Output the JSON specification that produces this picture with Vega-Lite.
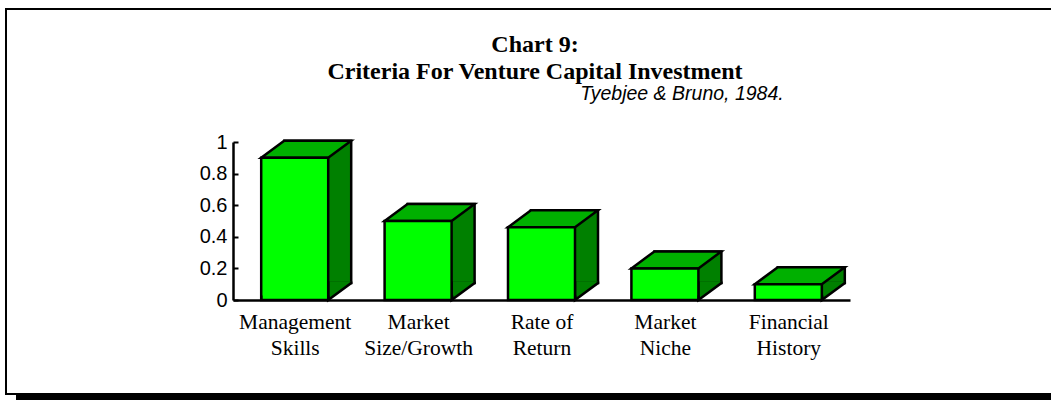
{
  "$schema": "https://vega.github.io/schema/vega-lite/v6.json",
  "width": 1046,
  "height": 385,
  "autosize": {"type": "none"},
  "padding": {"left": 6, "top": 9, "right": -1, "bottom": 6},
  "background": "white",
  "config": {
    "view": {"stroke": "black", "strokeWidth": 2},
    "axis": {"grid": false, "domainColor": "black", "tickColor": "black", "labelColor": "black", "domainWidth": 2.5, "tickWidth": 2}
  },
  "title": {
    "text": ["Chart 9:", "Criteria For Venture Capital Investment"],
    "font": "Liberation Serif",
    "fontSize": 24,
    "fontWeight": "bold",
    "lineHeight": 27,
    "anchor": "middle",
    "offset": -75,
    "color": "black",
    "dx": 6
  },
  "resolve": {"scale": {"x": "independent"}, "axis": {"x": "independent"}},
  "layer": [
    {
      "data": {"values": [{"frame": "shadow"}]},
      "mark": {"type": "rect", "fill": "black"},
      "encoding": {
        "x": {"datum": 0, "type": "quantitative", "scale": {"domain": [0, 1], "range": [10, 1046]}, "axis": null},
        "x2": {"datum": 1},
        "y": {"datum": -0.6013, "type": "quantitative"},
        "y2": {"datum": -0.639}
      }
    },
    {
      "data": {"values": [
        {"criterion": "Management Skills", "value": 0.9},
        {"criterion": "Market Size/Growth", "value": 0.5},
        {"criterion": "Rate of Return", "value": 0.46},
        {"criterion": "Market Niche", "value": 0.2},
        {"criterion": "Financial History", "value": 0.1}
      ]},
      "encoding": {
        "x": {
          "field": "criterion", "type": "nominal", "sort": null,
          "scale": {"range": [227, 844], "paddingInner": 0.457, "paddingOuter": 0.2285},
          "axis": {
            "title": null, "orient": "bottom", "offset": -94, "labelAngle": 0,
            "labelFont": "Liberation Serif", "labelFontSize": 21.5, "labelLineHeight": 26,
            "labelPadding": 16, "tickBand": "extent", "tickSize": -5, "zindex": 1,
            "labelExpr": "datum.label == 'Rate of Return' ? ['Rate of', 'Return'] : split(datum.label, ' ')"
          }
        },
        "y": {
          "field": "value", "type": "quantitative",
          "scale": {"domain": [0, 1], "range": [291, 133], "nice": false},
          "axis": {
            "title": null, "offset": -227, "values": [0, 0.2, 0.4, 0.6, 0.8, 1], "format": "~g",
            "labelFont": "Liberation Sans", "labelFontSize": 20, "tickSize": -5, "labelPadding": 11, "zindex": 1
          }
        }
      },
      "layer": [
        {
          "mark": {"type": "bar", "fill": "#008000", "stroke": "black", "strokeWidth": 2.5, "xOffset": 23, "yOffset": -17, "y2Offset": -17},
          "encoding": {"y2": {"datum": 0}}
        },
        {
          "mark": {"type": "point", "shape": "M33.5,-18.5L33.5,0L56.5,-17L56.5,-18.5", "size": 4, "filled": true, "fill": "#008000", "stroke": "black", "strokeWidth": 2.5, "opacity": 1},
          "encoding": {"y": {"datum": 0, "type": "quantitative"}}
        },
        {
          "mark": {"type": "point", "shape": "M-33.5,0L33.5,0L56.5,-17L-10.5,-17Z", "size": 4, "filled": true, "fill": "#00b000", "stroke": "black", "strokeWidth": 2.5, "opacity": 1}
        },
        {
          "mark": {"type": "bar", "fill": "#00ff00", "stroke": "black", "strokeWidth": 2.5},
          "encoding": {"y2": {"datum": 0}}
        }
      ]
    },
    {
      "data": {"values": [{"source": "Tyebjee & Bruno, 1984."}]},
      "mark": {"type": "text", "font": "Liberation Sans", "fontStyle": "italic", "fontSize": 19.5, "align": "right", "baseline": "alphabetic", "fill": "black"},
      "encoding": {
        "x": {"datum": 0.7435, "type": "quantitative", "scale": {"domain": [0, 1], "range": [0, 1046]}, "axis": null},
        "y": {"datum": 1.265, "type": "quantitative"},
        "text": {"field": "source", "type": "nominal"}
      }
    }
  ]
}
